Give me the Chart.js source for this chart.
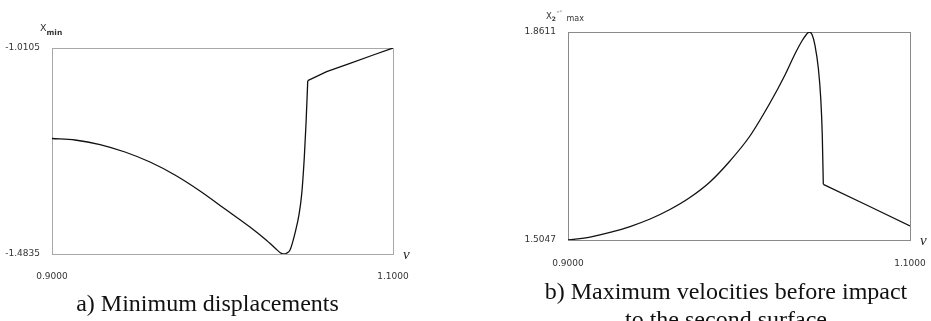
<!DOCTYPE html>
<html>
<head>
<meta charset="utf-8">
<script src="https://cdn.jsdelivr.net/npm/chart.js@4"></script>
<style>
  html, body { margin: 0; padding: 0; background: #fff; }
  body { position: relative; width: 931px; height: 321px; overflow: hidden; }
  canvas { position: absolute; top: 0; }
  .lbl { position: absolute; font-family: "DejaVu Sans", sans-serif; color: #333; white-space: nowrap; line-height: 1; }
  .nu { position: absolute; font-family: "Liberation Serif", serif; font-style: italic; font-size: 15px; color: #222; line-height: 1; }
  .cap { position: absolute; font-family: "Liberation Serif", serif; font-size: 24px; color: #111; text-align: center; line-height: 27.6px; }
</style>
</head>
<body>
<canvas id="chartA" width="465" height="321" style="left:0px"></canvas>
<canvas id="chartB" width="465" height="321" style="left:466px"></canvas>

<div class="lbl" style="left:40px; top:23px; font-size:9.5px">X<span style="font-size:7.5px; position:relative; top:4px; font-weight:bold">min</span></div>
<div class="nu" style="left:403px; top:247px">ν</div>
<div class="cap" style="left:0px; top:290px; width:415px">a) Minimum displacements</div>

<div class="lbl" style="left:546px; top:12px; font-size:8.5px">X<span style="font-size:6px; position:relative; top:2px; font-weight:bold">2</span><span style="font-size:7px; position:relative; top:-3px; margin-left:1px">'¯</span><span style="font-size:8px; position:relative; top:2px; margin-left:4px">max</span></div>
<div class="nu" style="left:920px; top:233px">ν</div>
<div class="cap" style="left:466px; top:278px; width:520px">b) Maximum velocities before impact<br>to the second surface</div>

<script>
// frequency ratio on the horizontal axis
const nuMin = 0.9;
const nuMax = 1.1;
const nuTicks = [0.9, 1.1];

// a) minimum displacements: smooth branch up to the jump, then the upper branch
const nuA = [0.9000, 0.9135, 0.9282, 0.9428, 0.9575, 0.9721, 0.9868, 1.0015, 1.0161, 1.0249, 1.0308,
             1.0337, 1.0357, 1.0378, 1.0396, 1.0425, 1.0450, 1.0465, 1.0480, 1.0490, 1.0500];
const xMin = [-1.2183, -1.2217, -1.2321, -1.2493, -1.2723, -1.3021, -1.3388, -1.3802, -1.4215, -1.4491, -1.4697,
              -1.4801, -1.4835, -1.4812, -1.4743, -1.4360, -1.3900, -1.3441, -1.2601, -1.1827, -1.0856];
const nuTailA = [1.0500, 1.0611, 1.0748, 1.0884, 1.1000];
const xMinTail = [-1.0856, -1.0649, -1.0456, -1.0266, -1.0105];
const yTicksA = [-1.4835, -1.0105];

// b) maximum velocities before impact to the second surface
const nuB = [0.9000, 0.9129, 0.9246, 0.9363, 0.9480, 0.9596, 0.9713, 0.9830, 0.9947, 1.0064, 1.0181,
             1.0269, 1.0327, 1.0368, 1.0392, 1.0411, 1.0427, 1.0444, 1.0464, 1.0478, 1.0487, 1.0493];
const vMax = [1.5047, 1.5098, 1.5176, 1.5278, 1.5407, 1.5570, 1.5775, 1.6041, 1.6401, 1.6829, 1.7394,
              1.7874, 1.8234, 1.8457, 1.8560, 1.8611, 1.8568, 1.8388, 1.7989, 1.7475, 1.6846, 1.6001];
const nuTailB = [1.0493, 1.0749, 1.1000];
const vMaxTail = [1.6001, 1.5642, 1.5287];
const yTicksB = [1.5047, 1.8611];

// frame around the plot area
const frame = {
    id: 'frame',
    beforeDatasetsDraw(chart, args, opts) {
        const a = chart.chartArea;
        const ctx = chart.ctx;
        ctx.save();
        ctx.strokeStyle = opts.color;
        ctx.lineWidth = 1;
        ctx.strokeRect(Math.round(a.left) + 0.5, Math.round(a.top) + 0.5,
                       Math.round(a.right - a.left), Math.round(a.bottom - a.top));
        ctx.restore();
    }
};

// fixed axis sizes so the plot box sits where it should
function fixX(s) {
    s.height = 30;
    s.paddingLeft = 0;
    s.paddingRight = 0;
}

function toPoints(xs, ys) {
    return xs.map((x, i) => ({ x: x, y: ys[i] }));
}

function makeChart(id, curve, tail, yTicks, yWidth, padding, xPad, frameColor) {
    const ctx = document.getElementById(id).getContext('2d');
    const line = { borderColor: '#111', borderWidth: 1.3, pointRadius: 0, fill: false };
    return new Chart(ctx, {
        type: 'line',
        data: {
            datasets: [
                Object.assign({ data: curve, cubicInterpolationMode: 'monotone' }, line),
                Object.assign({ data: tail, tension: 0 }, line)
            ]
        },
        options: {
            responsive: false,
            animation: false,
            devicePixelRatio: 1,
            layout: { padding: padding },
            plugins: {
                legend: { display: false },
                tooltip: { enabled: false },
                frame: { color: frameColor }
            },
            scales: {
                x: {
                    type: 'linear',
                    min: nuMin,
                    max: nuMax,
                    grid: { display: false, drawTicks: false },
                    border: { display: false },
                    afterBuildTicks: s => { s.ticks = nuTicks.map(v => ({ value: v })); },
                    afterFit: fixX,
                    ticks: {
                        padding: xPad,
                        maxRotation: 0,
                        autoSkip: false,
                        color: '#333',
                        font: { family: 'DejaVu Sans', size: 9 },
                        callback: v => v.toFixed(4)
                    }
                },
                y: {
                    min: yTicks[0],
                    max: yTicks[1],
                    grid: { display: false, drawTicks: false },
                    border: { display: false },
                    afterBuildTicks: s => { s.ticks = yTicks.map(v => ({ value: v })); },
                    afterFit: s => { s.width = yWidth; s.paddingTop = 0; s.paddingBottom = 0; },
                    ticks: {
                        padding: 12,
                        autoSkip: false,
                        color: '#333',
                        font: { family: 'DejaVu Sans', size: 9 },
                        callback: v => v.toFixed(4)
                    }
                }
            }
        },
        plugins: [frame]
    });
}

makeChart('chartA', toPoints(nuA, xMin), toPoints(nuTailA, xMinTail), yTicksA, 52,
          { top: 48, right: 72, bottom: 37, left: 0 }, 17, '#a8a8a8');
makeChart('chartB', toPoints(nuB, vMax), toPoints(nuTailB, vMaxTail), yTicksB, 102,
          { top: 32, right: 21, bottom: 51, left: 0 }, 18, '#8a8a8a');
</script>
</body>
</html>
